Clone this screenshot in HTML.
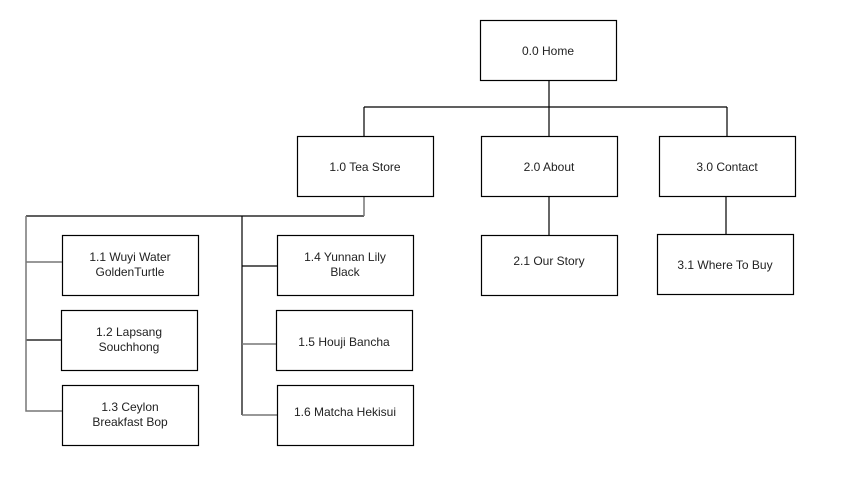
<!DOCTYPE html>
<html><head><meta charset="utf-8"><style>
html,body{margin:0;padding:0;background:#fff;width:860px;height:484px;overflow:hidden}
svg text{font-family:"Liberation Sans",sans-serif;font-size:12px;fill:#222}
</style></head><body>
<svg width="860" height="484" viewBox="0 0 860 484" xmlns="http://www.w3.org/2000/svg">
<g fill="none" stroke="#000" stroke-width="1.2">
<path d="M549 80V107M364 107H727M364 107V136M549 107V136M727 107V136"/>
<path d="M549 196V235M726 196V234"/>
<path d="M364 216H26M242 216V415"/>
<path d="M26 340H61M242 266H277"/>
</g>
<g fill="none" stroke="#777" stroke-width="1.5">
<path d="M364 196V216M26 216V411H62M26 262H62M242 344H276M242 415H277"/>
</g>
<g fill="#fff" stroke="#000" stroke-width="1.2">
<rect x="480.5" y="20.5" width="136" height="60"/>
<rect x="297.5" y="136.5" width="136" height="60"/>
<rect x="481.5" y="136.5" width="136" height="60"/>
<rect x="659.5" y="136.5" width="136" height="60"/>
<rect x="481.5" y="235.5" width="136" height="60"/>
<rect x="657.5" y="234.5" width="136" height="60"/>
<rect x="62.5" y="235.5" width="136" height="60"/>
<rect x="61.5" y="310.5" width="136" height="60"/>
<rect x="62.5" y="385.5" width="136" height="60"/>
<rect x="277.5" y="235.5" width="136" height="60"/>
<rect x="276.5" y="310.5" width="136" height="60"/>
<rect x="277.5" y="385.5" width="136" height="60"/>
</g>
<g text-anchor="middle">
<text x="548" y="55">0.0 Home</text>
<text x="365" y="171">1.0 Tea Store</text>
<text x="549" y="171">2.0 About</text>
<text x="727" y="171">3.0 Contact</text>
<text x="549" y="265">2.1 Our Story</text>
<text x="725" y="269">3.1 Where To Buy</text>
<text x="130" y="261">1.1 Wuyi Water</text>
<text x="130" y="276">GoldenTurtle</text>
<text x="129" y="336">1.2 Lapsang</text>
<text x="129" y="351">Souchhong</text>
<text x="130" y="411">1.3 Ceylon</text>
<text x="130" y="426">Breakfast Bop</text>
<text x="345" y="261">1.4 Yunnan Lily</text>
<text x="345" y="276">Black</text>
<text x="344" y="346">1.5 Houji Bancha</text>
<text x="345" y="416">1.6 Matcha Hekisui</text>
</g>
</svg>
</body></html>
